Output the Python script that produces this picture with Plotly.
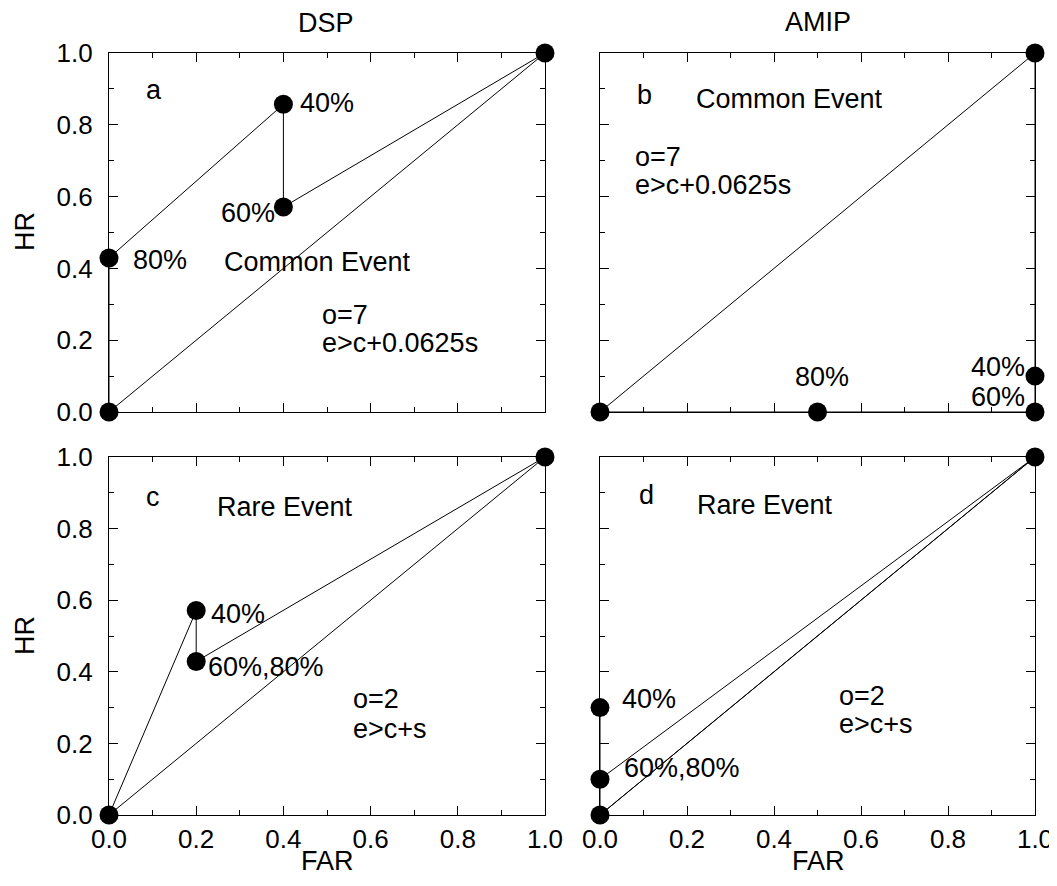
import plotly.graph_objects as go
from plotly.subplots import make_subplots

# ---- data ----
# Panel a: DSP, common event
a_curve_far = [0.0, 0.0, 0.4, 0.4, 1.0]
a_curve_hr = [0.0, 0.429, 0.857, 0.571, 1.0]
# Panel b: AMIP, common event
b_curve_far = [0.0, 0.5, 1.0, 1.0, 1.0]
b_curve_hr = [0.0, 0.0, 0.0, 0.1, 1.0]
# Panel c: DSP, rare event
c_curve_far = [0.0, 0.2, 0.2, 1.0]
c_curve_hr = [0.0, 0.571, 0.429, 1.0]
# Panel d: AMIP, rare event
d_curve_far = [0.0, 0.0, 0.0, 1.0]
d_curve_hr = [0.3, 0.1, 0.0, 1.0]
d_extra_far = [0.0, 1.0]
d_extra_hr = [0.1, 1.0]
diag = [0.0, 1.0]

tick_vals = [0.0, 0.2, 0.4, 0.6, 0.8, 1.0]
tick_text = ["0.0", "0.2", "0.4", "0.6", "0.8", "1.0"]

FONT = "Liberation Sans, Arial, Helvetica, sans-serif"
FS = 27
FS_TICK = 26

fig = make_subplots(rows=2, cols=2)

def add_panel(row, col, fx, fy):
    fig.add_trace(go.Scatter(x=diag, y=diag, mode="lines",
                             line=dict(color="black", width=1), cliponaxis=False,
                             showlegend=False, hoverinfo="skip"), row=row, col=col)
    fig.add_trace(go.Scatter(x=fx, y=fy, mode="lines+markers",
                             line=dict(color="black", width=1),
                             marker=dict(color="black", size=19),
                             cliponaxis=False, showlegend=False), row=row, col=col)

add_panel(1, 1, a_curve_far, a_curve_hr)
add_panel(1, 2, b_curve_far, b_curve_hr)
add_panel(2, 1, c_curve_far, c_curve_hr)
add_panel(2, 2, d_curve_far, d_curve_hr)
fig.add_trace(go.Scatter(x=d_extra_far, y=d_extra_hr, mode="lines",
                         line=dict(color="black", width=1), cliponaxis=False,
                         showlegend=False), row=2, col=2)

# page has an 8px body margin; size the figure so it fits the 1057x886 window
OFF = 8
W, H = 1057 - OFF, 886 - 2 * OFF

def px(x):
    return (x - OFF) / W

def py(y):
    return 1 - (y - OFF) / H

xdom_l = [px(109), px(545)]
xdom_r = [px(600), px(1035)]
ydom_t = [py(412), py(53)]
ydom_b = [py(815), py(457)]

axis_common = dict(range=[0, 1], tickvals=tick_vals, ticktext=tick_text,
                   ticks="inside", ticklen=9, tickwidth=1, tickcolor="black",
                   minor=dict(dtick=0.1, tick0=0, ticks="inside", ticklen=5,
                              tickwidth=1, tickcolor="black"),
                   showline=True, linecolor="black", linewidth=1.3, mirror="ticks",
                   showgrid=False, zeroline=False, automargin=False,
                   ticklabeloverflow="allow",
                   tickfont=dict(family=FONT, size=FS_TICK, color="black"))

doms = {1: (xdom_l, ydom_t), 2: (xdom_r, ydom_t), 3: (xdom_l, ydom_b), 4: (xdom_r, ydom_b)}
for i in range(1, 5):
    xd, yd = doms[i]
    xs = "xaxis" if i == 1 else f"xaxis{i}"
    ys = "yaxis" if i == 1 else f"yaxis{i}"
    fig.layout[xs].update(domain=xd, showticklabels=(i >= 3), ticklabelstandoff=1, **axis_common)
    fig.layout[ys].update(domain=yd, showticklabels=(i in (1, 3)), ticklabelstandoff=10, **axis_common)

def ann(text, x, y, ref, xanchor="left", yanchor="middle"):
    fig.add_annotation(text=text, x=x, y=y, xref=f"x{ref}" if ref > 1 else "x",
                       yref=f"y{ref}" if ref > 1 else "y", showarrow=False,
                       xanchor=xanchor, yanchor=yanchor,
                       font=dict(family=FONT, size=FS, color="black"))

# panel a
ann("a", 0.08, 0.897, 1)
ann("40%", 0.433, 0.86, 1)
ann("60%", 0.385, 0.553, 1, xanchor="right")
ann("80%", 0.05, 0.423, 1)
ann("Common Event", 0.259, 0.419, 1)
ann("o=7", 0.484, 0.27, 1)
ann("e>c+0.0625s", 0.484, 0.191, 1)
# panel b
ann("b", 0.08, 0.883, 2)
ann("Common Event", 0.215, 0.872, 2)
ann("o=7", 0.075, 0.711, 2)
ann("e>c+0.0625s", 0.075, 0.632, 2)
ann("80%", 0.511, 0.098, 2, xanchor="center")
ann("40%", 0.981, 0.126, 2, xanchor="right")
ann("60%", 0.981, 0.043, 2, xanchor="right")
# panel c
ann("c", 0.08, 0.889, 3)
ann("Rare Event", 0.244, 0.861, 3)
ann("40%", 0.23, 0.562, 3)
ann("60%,80%", 0.222, 0.413, 3)
ann("o=2", 0.556, 0.324, 3)
ann("e>c+s", 0.556, 0.24, 3)
# panel d
ann("d", 0.085, 0.894, 4)
ann("Rare Event", 0.219, 0.866, 4)
ann("40%", 0.045, 0.324, 4)
ann("60%,80%", 0.051, 0.131, 4)
ann("o=2", 0.545, 0.333, 4)
ann("e>c+s", 0.545, 0.254, 4)

def pann(text, x, y, angle=0, yanchor="middle"):
    fig.add_annotation(text=text, x=px(x), y=py(y), xref="paper", yref="paper",
                       showarrow=False, xanchor="center", yanchor=yanchor, textangle=angle,
                       font=dict(family=FONT, size=FS, color="black"))

pann("DSP", 326, 23)
pann("AMIP", 818, 22)
pann("HR", 25, 232, -90)
pann("HR", 25, 636, -90)
pann("FAR", 327, 878, yanchor="bottom")
pann("FAR", 818, 878, yanchor="bottom")

fig.update_layout(width=W, height=H, margin=dict(l=0, r=0, t=0, b=0, pad=0),
                  paper_bgcolor="white", plot_bgcolor="white", showlegend=False)

fig.write_html("out.html")
